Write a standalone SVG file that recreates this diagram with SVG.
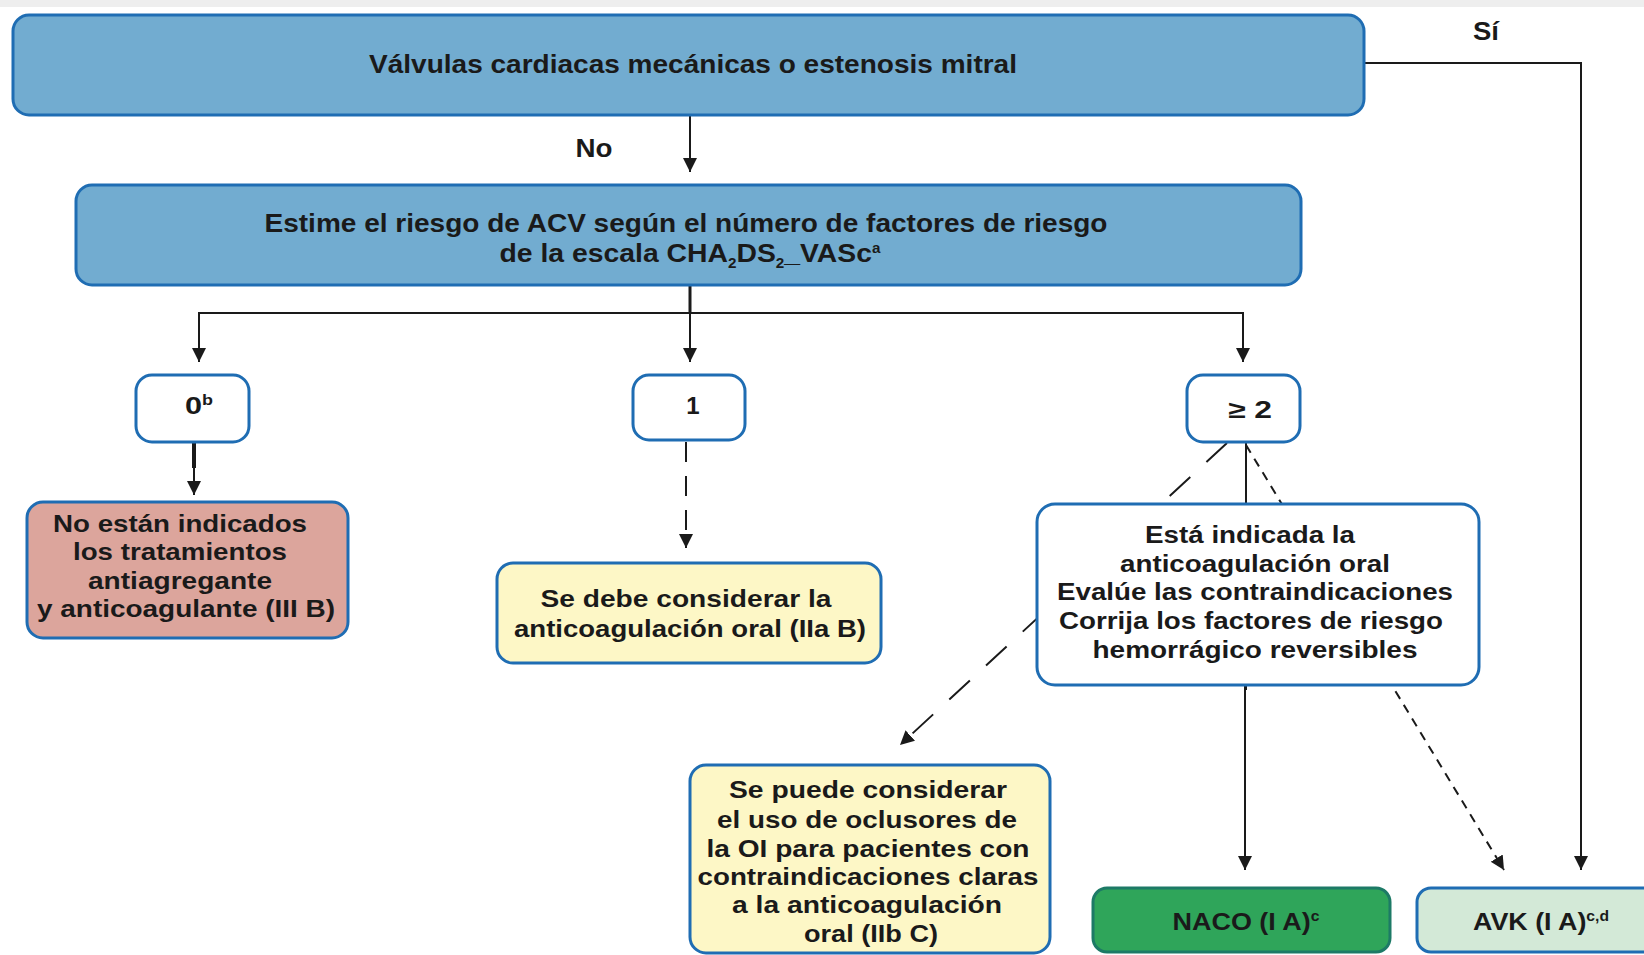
<svg xmlns="http://www.w3.org/2000/svg" width="1644" height="955" viewBox="0 0 1644 955">
<style>
text{font-family:"Liberation Sans",Arial,sans-serif;font-weight:bold;fill:#1a1a1a;text-anchor:middle}
.h{font-size:26px}
.t{font-size:24px}
.sup{font-size:14px}
.sub{font-size:14px}
.hdr{fill:#72acd0;stroke:#1f6db3;stroke-width:3}
.wb{fill:#ffffff;stroke:#1f6db3;stroke-width:3}
.red{fill:#dca59c;stroke:#1f6db3;stroke-width:3}
.yel{fill:#fdf7c6;stroke:#1f6db3;stroke-width:3}
.naco{fill:#2fa55a;stroke:#1d7a66;stroke-width:3}
.avk{fill:#d3e9d7;stroke:#1f6db3;stroke-width:3}
.ln{fill:none;stroke:#1a1a1a;stroke-width:2}
.arr{marker-end:url(#ah)}
.dl{stroke-dasharray:28 22}
.dm{stroke-dasharray:20 14}
.ds{stroke-dasharray:9 7}
</style>
<defs>
<marker id="ah" markerUnits="userSpaceOnUse" markerWidth="16" markerHeight="16" refX="14" refY="8" orient="auto">
<path d="M0,1 L14,8 L0,15 z" fill="#1a1a1a"/>
</marker>
</defs>
<rect x="0" y="0" width="1644" height="955" fill="#ffffff"/>
<rect x="0" y="0" width="1644" height="7" fill="#eeeeee"/>

<g id="connectors">
<line class="ln arr" x1="690" y1="115" x2="690" y2="172"/>
<line class="ln" x1="690" y1="285" x2="690" y2="313" style="stroke-width:3"/>
<polyline class="ln" points="199,362 199,313 1243,313 1243,362"/>
<line class="ln arr" x1="199" y1="313" x2="199" y2="362"/>
<line class="ln arr" x1="690" y1="313" x2="690" y2="362"/>
<line class="ln arr" x1="1243" y1="313" x2="1243" y2="362"/>
<line class="ln" x1="194" y1="442" x2="194" y2="468" style="stroke-width:4"/>
<line class="ln arr" x1="194" y1="460" x2="194" y2="495"/>
<line class="ln dm arr" x1="686" y1="442" x2="686" y2="548"/>
<polyline class="ln" points="1364,63 1581,63 1581,860"/>
<line class="ln arr" x1="1581" y1="800" x2="1581" y2="870"/>
<line class="ln" x1="1246" y1="442" x2="1246" y2="690"/>
<line class="ln arr" x1="1245" y1="685" x2="1245" y2="870"/>
<line class="ln ds arr" x1="1246" y1="445" x2="1504" y2="870"/>
<line class="ln dl arr" x1="1227" y1="443" x2="900" y2="745"/>
<text x="594" y="157" class="h" textLength="37" lengthAdjust="spacingAndGlyphs">No</text>
<text x="1486" y="40" class="h" textLength="26" lengthAdjust="spacingAndGlyphs">Sí</text>
</g>

<g id="n-valvulas">
<rect class="hdr" x="13" y="15" width="1351" height="100" rx="16"/>
<text x="693" y="73" class="h" textLength="648" lengthAdjust="spacingAndGlyphs">Válvulas cardiacas mecánicas o estenosis mitral</text>
</g>

<g id="n-estime">
<rect class="hdr" x="76" y="185" width="1225" height="100" rx="16"/>
<text x="686" y="232" class="h" textLength="843" lengthAdjust="spacingAndGlyphs">Estime el riesgo de ACV según el número de factores de riesgo</text>
<text x="690" y="262" class="h" textLength="381" lengthAdjust="spacingAndGlyphs">de la escala CHA<tspan class="sub" dy="6">2</tspan><tspan dy="-6">DS</tspan><tspan class="sub" dy="6">2</tspan><tspan dy="-6">_VASc</tspan><tspan class="sup" dy="-9">a</tspan></text>
</g>

<g id="n-0">
<rect class="wb" x="136" y="375" width="113" height="67" rx="16"/>
<text x="199" y="414" class="t" textLength="28" lengthAdjust="spacingAndGlyphs">0<tspan class="sup" dy="-9">b</tspan></text>
</g>

<g id="n-1">
<rect class="wb" x="633" y="375" width="112" height="65" rx="16"/>
<text x="693" y="414" class="t">1</text>
</g>

<g id="n-2">
<rect class="wb" x="1187" y="375" width="113" height="67" rx="16"/>
<text x="1250" y="418" class="t" textLength="44" lengthAdjust="spacingAndGlyphs">≥ 2</text>
</g>

<g id="n-no-indicados">
<rect class="red" x="27" y="502" width="321" height="136" rx="16"/>
<text x="180" y="532" class="t" textLength="254" lengthAdjust="spacingAndGlyphs">No están indicados</text>
<text x="180" y="560" class="t" textLength="214" lengthAdjust="spacingAndGlyphs">los tratamientos</text>
<text x="180" y="589" class="t" textLength="184" lengthAdjust="spacingAndGlyphs">antiagregante</text>
<text x="186" y="617" class="t" textLength="298" lengthAdjust="spacingAndGlyphs">y anticoagulante (III B)</text>
</g>

<g id="n-considerar">
<rect class="yel" x="497" y="563" width="384" height="100" rx="16"/>
<text x="686" y="607" class="t" textLength="291" lengthAdjust="spacingAndGlyphs">Se debe considerar la</text>
<text x="690" y="637" class="t" textLength="352" lengthAdjust="spacingAndGlyphs">anticoagulación oral (IIa B)</text>
</g>

<g id="n-indicada">
<rect class="wb" x="1037" y="504" width="442" height="181" rx="18"/>
<text x="1250" y="543" class="t" textLength="210" lengthAdjust="spacingAndGlyphs">Está indicada la</text>
<text x="1255" y="572" class="t" textLength="270" lengthAdjust="spacingAndGlyphs">anticoagulación oral</text>
<text x="1255" y="600" class="t" textLength="396" lengthAdjust="spacingAndGlyphs">Evalúe las contraindicaciones</text>
<text x="1251" y="629" class="t" textLength="384" lengthAdjust="spacingAndGlyphs">Corrija los factores de riesgo</text>
<text x="1255" y="658" class="t" textLength="325" lengthAdjust="spacingAndGlyphs">hemorrágico reversibles</text>
</g>

<g id="n-oclusores">
<rect class="yel" x="690" y="765" width="360" height="188" rx="16"/>
<text x="868" y="798" class="t" textLength="278" lengthAdjust="spacingAndGlyphs">Se puede considerar</text>
<text x="867" y="828" class="t" textLength="300" lengthAdjust="spacingAndGlyphs">el uso de oclusores de</text>
<text x="868" y="857" class="t" textLength="323" lengthAdjust="spacingAndGlyphs">la OI para pacientes con</text>
<text x="868" y="885" class="t" textLength="341" lengthAdjust="spacingAndGlyphs">contraindicaciones claras</text>
<text x="867" y="913" class="t" textLength="270" lengthAdjust="spacingAndGlyphs">a la anticoagulación</text>
<text x="871" y="942" class="t" textLength="134" lengthAdjust="spacingAndGlyphs">oral (IIb C)</text>
</g>

<g id="n-naco">
<rect class="naco" x="1093" y="888" width="297" height="64" rx="14"/>
<text x="1246" y="930" class="t" textLength="147" lengthAdjust="spacingAndGlyphs">NACO (I A)<tspan class="sup" dy="-9">c</tspan></text>
</g>

<g id="n-avk">
<rect class="avk" x="1417" y="888" width="260" height="64" rx="14"/>
<text x="1541" y="930" class="t" textLength="136" lengthAdjust="spacingAndGlyphs">AVK (I A)<tspan class="sup" dy="-9">c,d</tspan></text>
</g>
</svg>
